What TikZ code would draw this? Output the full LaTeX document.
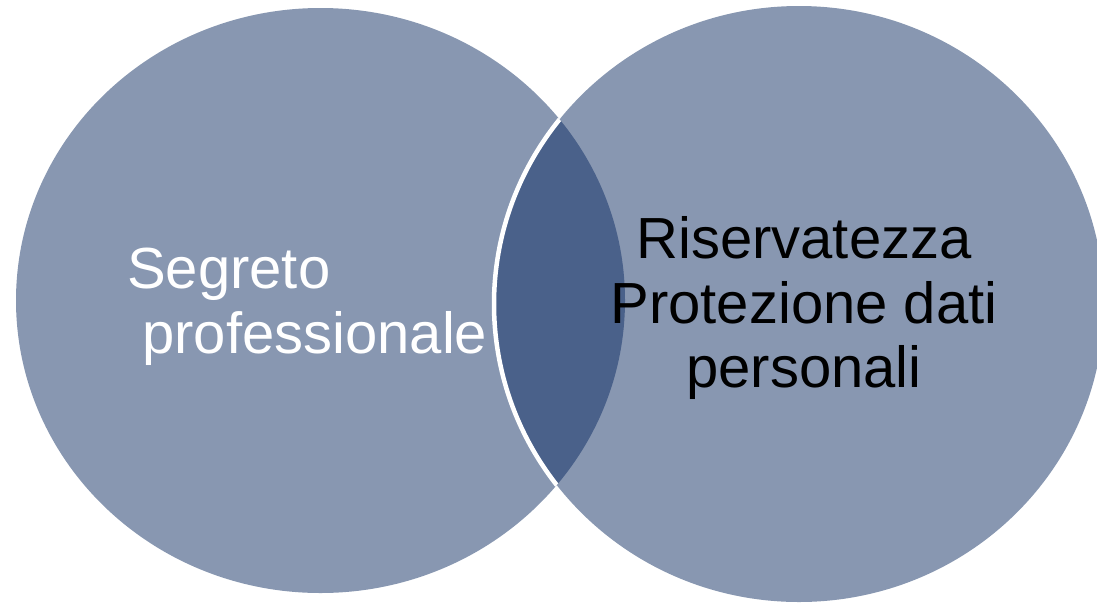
\documentclass[tikz,border=0pt]{standalone}
\usepackage{fontspec}
\setmainfont{Liberation Sans}
\definecolor{vennlight}{RGB}{136,151,177}
\definecolor{venndark}{RGB}{74,97,138}
\begin{document}
\begin{tikzpicture}[x=1pt,y=-1pt]

    \tikzset{
      venn/.style={
        fill=vennlight,
      },
      label/.style={
        inner sep=0pt,
        font=\fontsize{58}{65}\selectfont,
      },
    }
    \useasboundingbox (0,0) rectangle (1097,603);

	\coordinate (segreto) at (320.5,300.5);
	\coordinate (privacy) at (799,304);

	% the two sets
	\fill[venn] (segreto) ellipse [x radius=304.5, y radius=292.5];
	\fill[venn] (privacy) ellipse [x radius=305, y radius=298];

	% overlap
	\begin{scope}
	\clip (segreto) ellipse [x radius=304.5, y radius=292.5];
	\fill[venndark] (privacy) ellipse [x radius=305, y radius=298];
	\draw[white, line width=4.5pt] (privacy) ellipse [x radius=305, y radius=298];
	\end{scope}

	\node[label, text=white, anchor=base west] (segr) at (127,288) {Segreto};
	\node[label, text=white, anchor=base west] (prof) at (142,353) {professionale};

	\node[label, text=black, anchor=base] (ris) at (804,258) {Riservatezza};
	\node[label, text=black, anchor=base] (prot) at (804,323) {Protezione dati};
	\node[label, text=black, anchor=base] (pers) at (804,387) {personali};

\end{tikzpicture}
\end{document}
